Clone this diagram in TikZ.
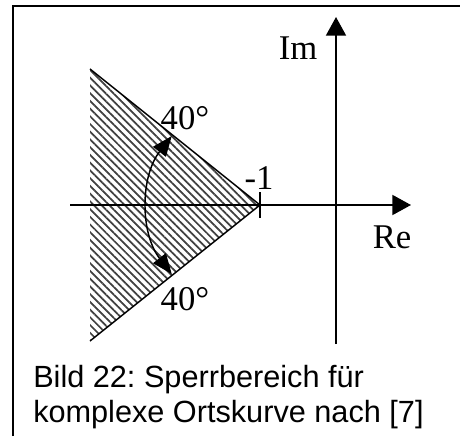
\documentclass[tikz,border=0pt]{standalone}
\usepackage{fontspec}
\setmainfont{Liberation Serif}
\setsansfont{Liberation Sans}
\usetikzlibrary{arrows.meta, patterns.meta, calc}
\frenchspacing

\begin{document}
\begin{tikzpicture}[x=0.75pt, y=0.75pt, >={Triangle[length=14pt, width=15pt]},
    axis/.style={line width=1.4pt},
    rim/.style={line width=1.1pt},
    lbl/.style={font=\fontsize{26}{30}\selectfont, inner sep=0pt},
    capline/.style={font=\sffamily\fontsize{23}{26}\selectfont, inner sep=0pt, anchor=base west},
    hatch/.style={pattern={Lines[angle=-45, distance=4.1pt, line width=1.3pt]}, pattern color=black!75}]
  \useasboundingbox (0,0) rectangle (460,436);

  % Frame
  \draw[line width=1.5pt] (12.5,0) -- (12.5,430) -- (460,430);

  % Points
  \coordinate (apex) at (260,231);
  \coordinate (top) at (90,367);
  \coordinate (bot) at (90,95);
  \coordinate (re0) at (70,231);
  \coordinate (re1) at (411,231);
  \coordinate (im0) at (336,92);
  \coordinate (im1) at (336,419);
  \coordinate (tick0) at ($(apex)+(0,-12.5)$);
  \coordinate (tick1) at ($(apex)+(0,12.5)$);

  % Blocked region
  \fill[hatch] (top) -- (apex) -- (bot) -- cycle;
  \draw[rim] (top) -- (apex) -- (bot);

  % Axes
  \draw[axis, ->] (re0) -- (re1);
  \draw[axis, ->] (im0) -- (im1);
  \draw[axis] (tick0) -- (tick1);

  % Angle arc
  \draw[rim, {Triangle[length=15pt, width=12pt]}-{Triangle[length=15pt, width=12pt]}]
    ($(apex)+(142:112)$) arc[start angle=142, end angle=218, radius=112];

  % Labels
  \node[lbl] (minus1) at (259,258) {-1};
  \node[lbl] (im) at (298,388) {Im};
  \node[lbl] (re) at (392,199) {Re};
  \node[lbl] (angtop) at (185,318) {40°};
  \node[lbl] (angbot) at (185,137) {40°};

  % Caption
  \node[capline] (cap1) at (33,49) {Bild 22: Sperrbereich für};
  \node[capline] (cap2) at (33,14) {komplexe Ortskurve nach [7]};
\end{tikzpicture}
\end{document}
